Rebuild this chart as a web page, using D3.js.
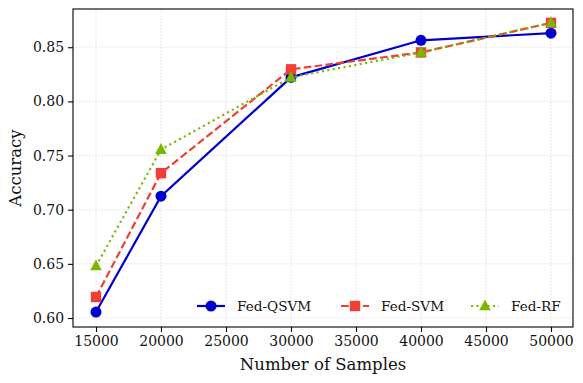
<!DOCTYPE html>
<html>
<head>
<meta charset="utf-8">
<script src="https://cdn.jsdelivr.net/npm/d3@7"></script>
<style>
  body { margin: 0; background: #fff; }
  svg { display: block; font-family: "DejaVu Serif", serif; }
  .grid line { stroke: #d0d0d0; stroke-width: 0.8; stroke-dasharray: 1.2,2; }
</style>
</head>
<body>
<svg id="chart" width="583" height="383"></svg>
<script>
// data
var samples = [15000, 20000, 30000, 40000, 50000];
var fedQSVM = [0.6055, 0.7125, 0.8222, 0.8564, 0.8630];
var fedSVM  = [0.6194, 0.7337, 0.8296, 0.8452, 0.8725];
var fedRF   = [0.6480, 0.7555, 0.8222, 0.8452, 0.8725];
var xTicks = [15000, 20000, 25000, 30000, 35000, 40000, 45000, 50000];
var yTicks = [0.60, 0.65, 0.70, 0.75, 0.80, 0.85];

var series = [
  { name: "Fed-QSVM", values: fedQSVM, color: "#0000cd", dash: null, marker: "circle" },
  { name: "Fed-SVM",  values: fedSVM,  color: "#ee4035", dash: "7.7,3.3", marker: "square" },
  { name: "Fed-RF",   values: fedRF,   color: "#78b800", dash: "2.1,3.4", marker: "triangle" }
];

var margin = { top: 9, right: 10, bottom: 56, left: 73 };
var svg = d3.select("#chart");
var width = 583 - margin.left - margin.right,
    height = 383 - margin.top - margin.bottom;

var g = svg.append("g").attr("transform", "translate(" + margin.left + "," + margin.top + ")");

var x = d3.scaleLinear().domain([13231, 51692]).range([0, width]);
var y = d3.scaleLinear().domain([0.5917, 0.8853]).range([height, 0]);

// grid
g.append("g").attr("class", "grid")
  .selectAll("line").data(xTicks).enter().append("line")
  .attr("x1", function(d) { return x(d); }).attr("x2", function(d) { return x(d); })
  .attr("y1", 0).attr("y2", height);
g.append("g").attr("class", "grid")
  .selectAll("line").data(yTicks).enter().append("line")
  .attr("y1", function(d) { return y(d); }).attr("y2", function(d) { return y(d); })
  .attr("x1", 0).attr("x2", width);

// axes
var xAxis = g.append("g").attr("transform", "translate(0," + height + ")")
  .call(d3.axisBottom(x).tickValues(xTicks).tickFormat(d3.format("d")).tickSizeOuter(0).tickSize(4.9).tickPadding(4));
var yAxis = g.append("g")
  .call(d3.axisLeft(y).tickValues(yTicks).tickFormat(d3.format(".2f")).tickSizeOuter(0).tickSize(4.9).tickPadding(4));
[xAxis, yAxis].forEach(function(a) {
  a.select(".domain").remove();
  a.selectAll("text").attr("font-family", "DejaVu Serif").attr("font-size", "14px").attr("fill", "#111");
  a.selectAll("line").attr("stroke", "#000").attr("stroke-width", 1.1);
});

// frame
g.append("rect").attr("width", width).attr("height", height)
  .attr("fill", "none").attr("stroke", "#000").attr("stroke-width", 1.1);

var line = d3.line()
  .x(function(d, i) { return x(samples[i]); })
  .y(function(d) { return y(d); });

function drawMarker(sel, type, color) {
  if (type === "circle") {
    sel.append("circle").attr("r", 5.5).attr("fill", color);
  } else if (type === "square") {
    sel.append("rect").attr("x", -5.2).attr("y", -5.2).attr("width", 10.4).attr("height", 10.4).attr("fill", color);
  } else {
    sel.append("path").attr("d", "M0,-6.5L5.8,4.3L-5.8,4.3Z").attr("fill", color);
  }
}

series.forEach(function(s) {
  g.append("path").datum(s.values)
    .attr("d", line)
    .attr("fill", "none")
    .attr("stroke", s.color)
    .attr("stroke-width", 2.2)
    .attr("stroke-dasharray", s.dash);
  g.append("g").selectAll("g").data(s.values).enter().append("g")
    .attr("transform", function(d, i) { return "translate(" + x(samples[i]) + "," + y(d) + ")"; })
    .each(function() { drawMarker(d3.select(this), s.marker, s.color); });
});

// legend
var legendX = [197, 341, 471];
var legend = g.append("g").attr("transform", "translate(0," + (306 - margin.top) + ")");
series.forEach(function(s, i) {
  var lg = legend.append("g").attr("transform", "translate(" + (legendX[i] - margin.left) + ",0)");
  lg.append("line").attr("x1", 0).attr("x2", 28).attr("y1", 0).attr("y2", 0)
    .attr("stroke", s.color).attr("stroke-width", 2.2).attr("stroke-dasharray", s.dash);
  drawMarker(lg.append("g").attr("transform", "translate(14,0)"), s.marker, s.color);
  lg.append("text").attr("x", 40).attr("y", 0).attr("dy", "0.35em")
    .attr("font-size", "13.6px").attr("fill", "#111").text(s.name);
});

// axis labels
svg.append("text").attr("x", margin.left + width / 2).attr("y", 370)
  .attr("text-anchor", "middle").attr("font-size", "16.5px").attr("fill", "#111")
  .text("Number of Samples");
svg.append("text").attr("transform", "translate(21," + (margin.top + height / 2) + ") rotate(-90)")
  .attr("text-anchor", "middle").attr("font-size", "16.5px").attr("fill", "#111")
  .text("Accuracy");
</script>
</body>
</html>
